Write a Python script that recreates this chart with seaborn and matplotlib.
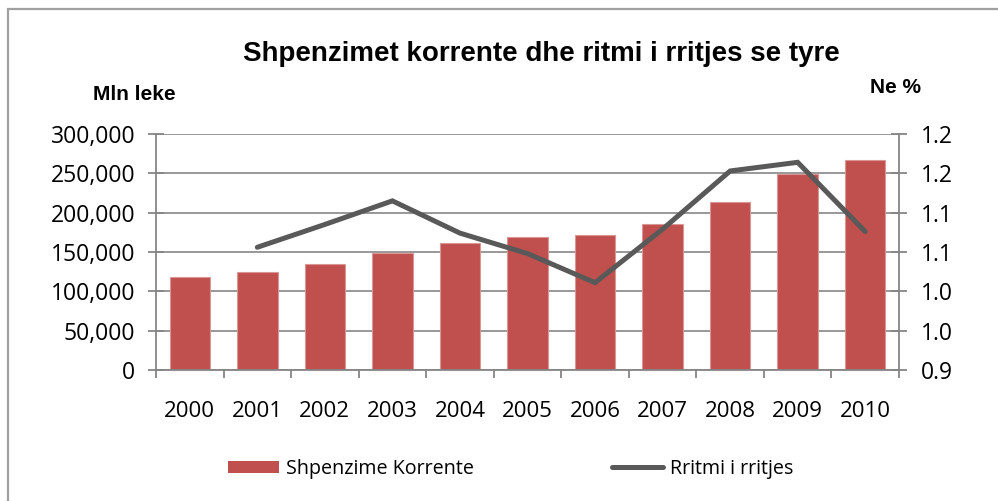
import matplotlib
matplotlib.use('Agg')
import matplotlib.pyplot as plt
import seaborn as sns
import numpy as np
from matplotlib.patches import Patch, Rectangle
from matplotlib.lines import Line2D
from matplotlib.ticker import FixedLocator, FuncFormatter

# ---------------- data ----------------
years = ['2000', '2001', '2002', '2003', '2004', '2005', '2006', '2007', '2008', '2009', '2010']
spending = [118000, 125000, 134700, 149100, 161800, 168700, 171600, 186000, 213100, 249600, 266500]
growth_years = ['2001', '2002', '2003', '2004', '2005', '2006', '2007', '2008', '2009', '2010']
growth = [1.056, 1.085, 1.115, 1.074, 1.048, 1.011, 1.079, 1.153, 1.164, 1.076]
left_ticks = [0, 50000, 100000, 150000, 200000, 250000, 300000]
right_ticks = [0.90, 0.95, 1.00, 1.05, 1.10, 1.15, 1.20]
right_tick_labels = ['0.9', '1.0', '1.0', '1.1', '1.1', '1.2', '1.2']

title = 'Shpenzimet korrente dhe ritmi i rritjes se tyre'
left_label = 'Mln leke'
right_label = 'Ne %'
bar_label = 'Shpenzime Korrente'
line_label = 'Rritmi i rritjes'

BAR_COLOR = '#C0504D'
LINE_COLOR = '#595959'
AXIS_COLOR = '#868686'

sns.set_style('white')
plt.rcParams['font.family'] = ['Open Sans', 'DejaVu Sans']
plt.rcParams['text.color'] = 'black'
narrow = ['Liberation Sans Narrow', 'Liberation Sans', 'DejaVu Sans']

fig = plt.figure(figsize=(9.98, 5.01), dpi=100)
ax = fig.add_axes([0.15631, 0.26148, 0.74449, 0.47106])

sns.barplot(x=years, y=spending, color=BAR_COLOR, saturation=1, width=0.6,
            edgecolor='#D99694', linewidth=0.8, ax=ax, zorder=2)

ax.set_xlim(-0.5, len(years) - 0.5)
ax.set_ylim(left_ticks[0], left_ticks[-1])
ax.yaxis.set_major_locator(FixedLocator(left_ticks))
ax.yaxis.set_major_formatter(FuncFormatter(lambda v, p: f'{int(v):,}'))
ax.set_axisbelow(True)
ax.grid(axis='y', color=AXIS_COLOR, linewidth=1.2)
ax.grid(axis='x', visible=False)
ax.set_xlabel('')
ax.set_ylabel('')

for s in ['top', 'right']:
    ax.spines[s].set_visible(False)
for s in ['left', 'bottom']:
    ax.spines[s].set_color(AXIS_COLOR)
    ax.spines[s].set_linewidth(1.3)

ax.set_xticks(np.arange(len(years)))
ax.set_xticklabels(years)
ax.set_xticks(np.arange(len(years) + 1) - 0.5, minor=True)
ax.tick_params(axis='x', which='major', length=0, pad=22, labelsize=16, colors='black')
ax.tick_params(axis='x', which='minor', direction='out', length=6, width=1.3, color=AXIS_COLOR, bottom=True)
ax.tick_params(axis='y', which='major', direction='inout', length=12, width=1.3,
               color=AXIS_COLOR, labelcolor='black', labelsize=16.5, pad=9, left=True)

# ------- secondary axis -------
ax2 = ax.twinx()
positions = [years.index(y) for y in growth_years]
sns.lineplot(x=positions, y=growth, color=LINE_COLOR, linewidth=3.6, ax=ax2,
             solid_capstyle='round', solid_joinstyle='miter', zorder=3)
ax2.set_xlim(-0.5, len(years) - 0.5)
ax2.set_ylim(right_ticks[0], right_ticks[-1])
ax2.set_yticks(right_ticks)
ax2.set_yticklabels(right_tick_labels)
ax2.set_ylabel('')
ax2.grid(False)
for s in ['top', 'left', 'bottom']:
    ax2.spines[s].set_visible(False)
ax2.spines['right'].set_color(AXIS_COLOR)
ax2.spines['right'].set_linewidth(1.3)
ax2.tick_params(axis='y', direction='inout', length=12, width=1.3, color=AXIS_COLOR,
                labelcolor='black', labelsize=16.5, pad=10, right=True)

# ------- texts -------
fig.text(0.542, 1 - 61 / 501, title, ha='center', va='baseline', color='black',
         fontsize=20, fontweight='bold', family=narrow)
fig.text(134 / 998, 1 - 100 / 501, left_label, ha='center', va='baseline', color='black',
         fontsize=15, fontweight='bold', family=narrow)
fig.text(896 / 998, 1 - 93 / 501, right_label, ha='center', va='baseline', color='black',
         fontsize=15, fontweight='bold', family=narrow)

handles = [Patch(facecolor=BAR_COLOR, edgecolor='none', label=bar_label),
           Line2D([], [], color=LINE_COLOR, linewidth=3.6, label=line_label)]
leg = fig.legend(handles=handles, loc='center', bbox_to_anchor=(0.5115, 0.064), ncol=2,
                 frameon=False, handlelength=2.6, handleheight=0.6, handletextpad=0.35,
                 columnspacing=7.0, fontsize=14.2)
for t in leg.get_texts():
    t.set_color('black')

fig.add_artist(Rectangle((8 / 998, -0.1), 1.2, 1.082, transform=fig.transFigure,
                         fill=False, edgecolor='#A0A0A0', linewidth=1.6))

fig.savefig('out.png', dpi=100, facecolor='white')
